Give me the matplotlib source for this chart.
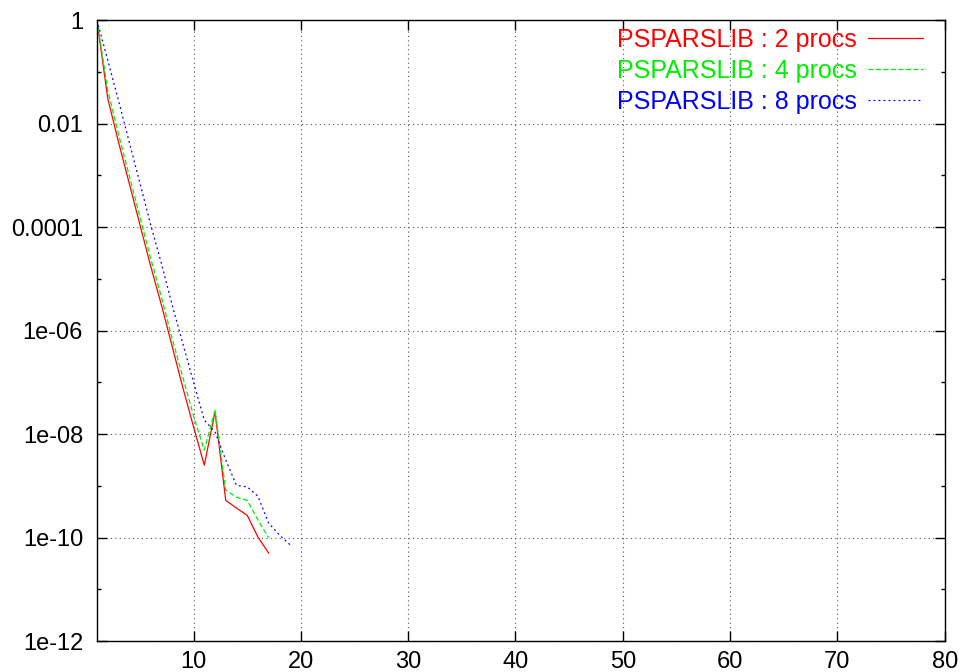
import matplotlib
matplotlib.use("Agg")
import matplotlib.pyplot as plt
from matplotlib.ticker import FixedLocator, NullFormatter
import numpy as np

plt.rcParams['font.family'] = ['Liberation Sans', 'DejaVu Sans']

# residual norm per iteration (log10)
iters_2 = np.arange(1, 18)
log_res_2 = [0.0, -1.51, -2.35, -3.15, -3.95, -4.75, -5.5, -6.3, -7.1, -7.86, -8.6,
             -7.57, -9.28, -9.43, -9.57, -9.99, -10.3]

iters_4 = np.arange(1, 18)
log_res_4 = [0.0, -1.35, -2.2, -3.0, -3.8, -4.6, -5.35, -6.15, -6.9, -7.65, -8.31,
             -7.54, -9.08, -9.22, -9.28, -9.66, -10.0]

iters_8 = np.arange(1, 20)
log_res_8 = [0.0, -0.77, -1.55, -2.35, -3.15, -3.95, -4.7, -5.5, -6.25, -7.0, -7.73,
             -7.96, -8.5, -8.99, -9.02, -9.2, -9.72, -9.95, -10.14]

labels = ["PSPARSLIB : 2 procs", "PSPARSLIB : 4 procs", "PSPARSLIB : 8 procs"]
colors = ["#ff0000", "#00ee00", "#0000ff"]

fig = plt.figure(figsize=(9.65, 6.72), dpi=100)
ax = fig.add_axes([0.1005, 0.046, 0.8785, 0.924])

ax.plot(iters_2, 10.0 ** np.array(log_res_2), color=colors[0], lw=0.9,
        linestyle="-", label=labels[0])
ax.plot(iters_4, 10.0 ** np.array(log_res_4), color=colors[1], lw=0.9,
        linestyle=(0, (4, 2)), label=labels[1])
ax.plot(iters_8, 10.0 ** np.array(log_res_8), color=colors[2], lw=0.9,
        linestyle=(0, (1.5, 2.5)), label=labels[2])

ax.set_yscale("log")
ax.set_xlim(1, 80)
ax.set_ylim(1e-12, 1)

ax.set_xticks([10, 20, 30, 40, 50, 60, 70, 80])
ax.xaxis.set_minor_locator(FixedLocator([]))
ytick_vals = [1e-12, 1e-10, 1e-8, 1e-6, 1e-4, 1e-2, 1]
ytick_labels = ["1e-12", "1e-10", "1e-08", "1e-06", "0.0001", "0.01", "1"]
ax.yaxis.set_major_locator(FixedLocator(ytick_vals))
ax.set_yticklabels(ytick_labels)
ax.yaxis.set_minor_locator(FixedLocator([1e-11, 1e-9, 1e-7, 1e-5, 1e-3, 1e-1]))
ax.yaxis.set_minor_formatter(NullFormatter())

ax.tick_params(which="both", direction="in", top=True, right=True,
               labelsize=17, width=1, colors="black")
ax.tick_params(which="major", length=7)
ax.tick_params(which="minor", length=3)
ax.tick_params(axis="y", pad=10)
ax.tick_params(axis="x", pad=7)

ax.grid(True, which="major", color="#555555", linestyle=(0, (1, 3)), lw=0.8)
for s in ax.spines.values():
    s.set_linewidth(1)

ax.legend(loc="upper right", bbox_to_anchor=(0.983, 1.0), frameon=False,
          markerfirst=False, fontsize=18, labelcolor=colors, handlelength=2.2,
          handletextpad=0.45, labelspacing=0.28, borderpad=0.0,
          borderaxespad=0.3)

fig.savefig("out.png", dpi=100)
